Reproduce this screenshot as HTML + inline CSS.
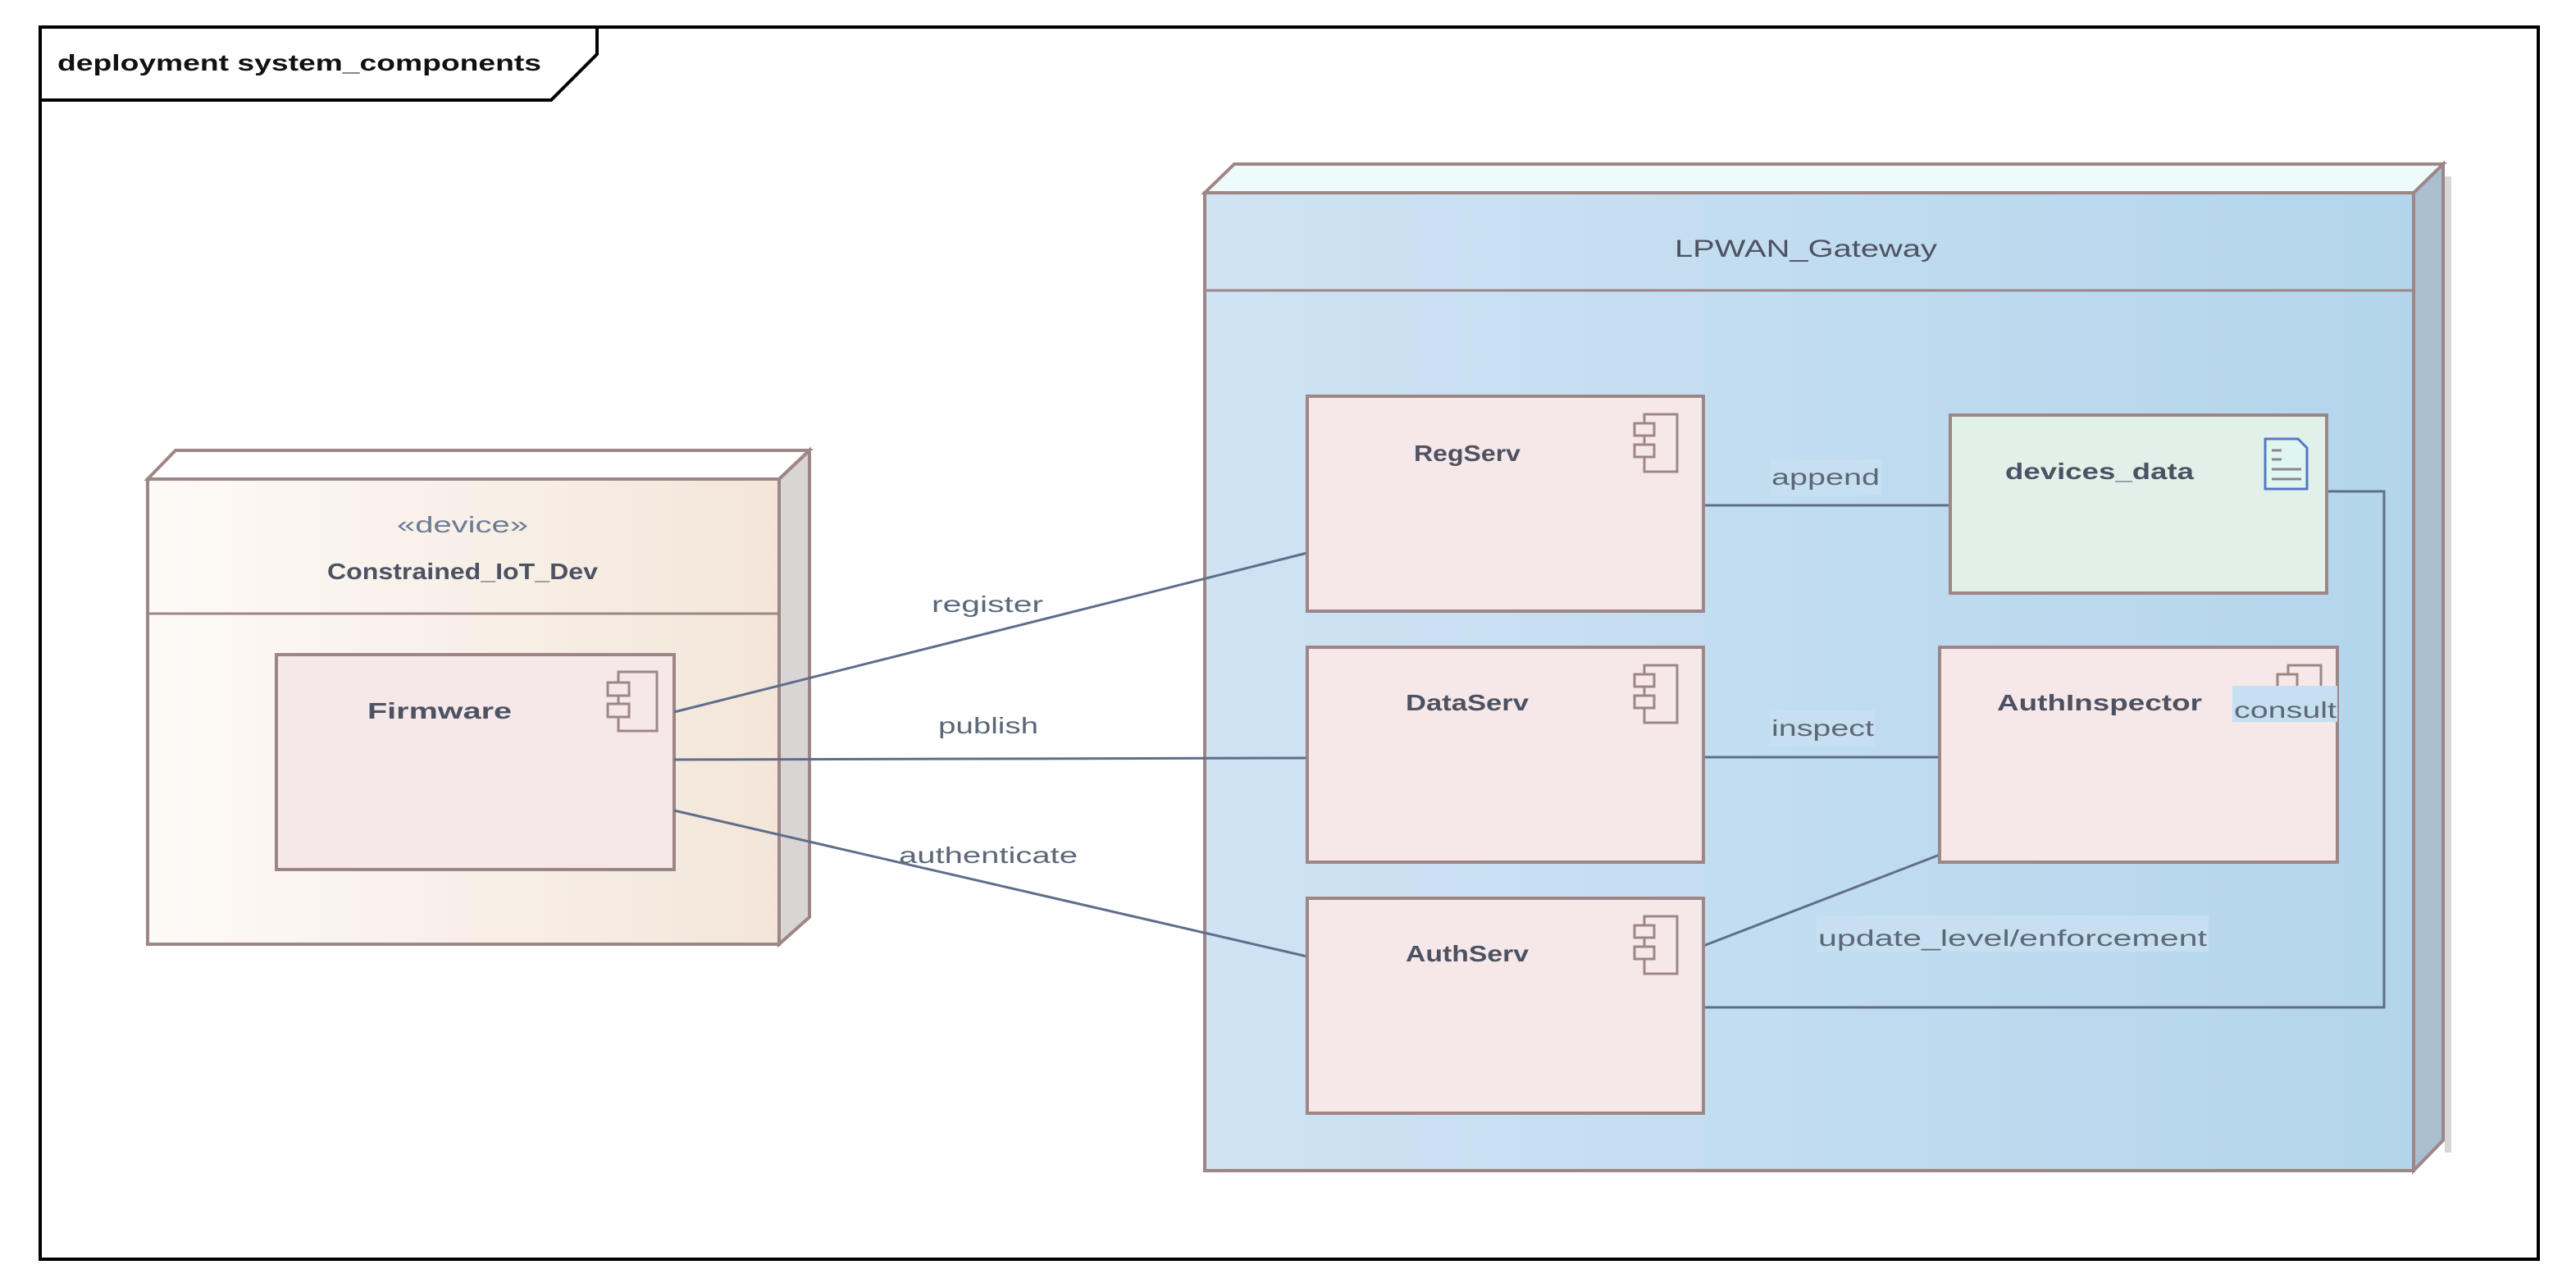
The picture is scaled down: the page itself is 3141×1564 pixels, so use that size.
<!DOCTYPE html>
<html><head><meta charset="utf-8"><style>
html,body{margin:0;padding:0;background:#fff;}
svg{display:block;}
text{font-family:"Liberation Sans",sans-serif;}
</style></head><body>
<svg width="3141" height="1564" viewBox="0 0 3141 1564" xmlns="http://www.w3.org/2000/svg">
<defs>
<linearGradient id="gdev" x1="0" x2="1" y1="0" y2="0"><stop offset="0" stop-color="#fdfaf7"/><stop offset="1" stop-color="#f3e6d9"/></linearGradient>
<linearGradient id="ggw" x1="0" x2="1" y1="0" y2="0"><stop offset="0" stop-color="#cfe3f3"/><stop offset="1" stop-color="#b3d5ec"/></linearGradient>
</defs>
<rect width="3141" height="1564" fill="#fff"/>
<rect x="49" y="33" width="3046" height="1502" fill="none" stroke="#000" stroke-width="4"/>
<polyline points="49,122 672,122 728,66 728,33" fill="none" stroke="#000" stroke-width="4"/>
<text x="70" y="86" font-size="28" font-weight="bold" fill="#111" textLength="590" lengthAdjust="spacingAndGlyphs">deployment system_components</text>

<polygon points="180,584 214,549 987,549 987,1118 950,1151 950,584" fill="#d9d6d6"/>
<polygon points="180,584 214,549 987,549 950,584" fill="#fff" stroke="#9e8686" stroke-width="4"/>
<polygon points="950,584 987,549 987,1118 950,1151" fill="#d8d5d5" stroke="#9e8686" stroke-width="4"/>
<rect x="180" y="584" width="770" height="567" fill="url(#gdev)" stroke="#9e8686" stroke-width="4"/>
<line x1="180" y1="748" x2="950" y2="748" stroke="#9e8686" stroke-width="3"/>
<text x="564" y="649" font-size="28" fill="#6d7b95" text-anchor="middle" textLength="160" lengthAdjust="spacingAndGlyphs">«device»</text>
<text x="564" y="706" font-size="28" font-weight="bold" fill="#4d5262" text-anchor="middle" textLength="330" lengthAdjust="spacingAndGlyphs">Constrained_IoT_Dev</text>
<rect x="337" y="798" width="485" height="262" fill="#f6e8e8" stroke="#9e8686" stroke-width="4"/>
<text x="536" y="876" font-size="28" font-weight="bold" fill="#4d5262" text-anchor="middle" textLength="176" lengthAdjust="spacingAndGlyphs">Firmware</text>
<g fill="#f6e8e8" stroke="#9e8686" stroke-width="3"><rect x="754" y="819" width="47" height="72"/><rect x="741" y="832" width="26" height="16"/><rect x="741" y="858" width="26" height="16"/></g>

<polygon points="2943,235 2979,200 2979,1390 2943,1427" fill="#a9bfd0" stroke="#9e8686" stroke-width="4"/>
<rect x="2981" y="215" width="8" height="1190" fill="#d6d6d6"/>
<polygon points="1469,235 1505,200 2979,200 2943,235" fill="#eefbfc" stroke="#9e8686" stroke-width="4"/>
<rect x="1469" y="235" width="1474" height="1192" fill="url(#ggw)" stroke="#9e8686" stroke-width="4"/>
<line x1="1469" y1="354" x2="2943" y2="354" stroke="#9e8686" stroke-width="3"/>
<text x="2202" y="313" font-size="30" fill="#4d5262" text-anchor="middle" textLength="320" lengthAdjust="spacingAndGlyphs">LPWAN_Gateway</text>

<g stroke="#5f6d8c" stroke-width="3" fill="none">
<line x1="822" y1="868" x2="1594" y2="674"/>
<line x1="822" y1="926" x2="1594" y2="924"/>
<line x1="822" y1="988" x2="1594" y2="1166"/>
<line x1="2077" y1="616" x2="2378" y2="616"/>
<line x1="2077" y1="923" x2="2365" y2="923"/>
<line x1="2077" y1="1153" x2="2365" y2="1042"/>
<polyline points="2077,1228 2907,1228 2907,599 2837,599"/>
</g>

<g fill="#f6e8e8" stroke="#9e8686" stroke-width="4">
<rect x="1594" y="483" width="483" height="262"/>
<rect x="1594" y="789" width="483" height="262"/>
<rect x="1594" y="1095" width="483" height="262"/>
<rect x="2365" y="789" width="485" height="262"/>
</g>
<rect x="2378" y="506" width="459" height="217" fill="#e1f1ea" stroke="#9e8686" stroke-width="4"/>
<g fill="#f6e8e8" stroke="#9e8686" stroke-width="3">
<rect x="2005" y="505" width="40" height="70"/><rect x="1993" y="516" width="24" height="15"/><rect x="1993" y="542" width="24" height="15"/>
<rect x="2005" y="811" width="40" height="70"/><rect x="1993" y="822" width="24" height="15"/><rect x="1993" y="848" width="24" height="15"/>
<rect x="2005" y="1117" width="40" height="70"/><rect x="1993" y="1128" width="24" height="15"/><rect x="1993" y="1154" width="24" height="15"/>
<rect x="2790" y="811" width="40" height="50"/><rect x="2777" y="822" width="24" height="40"/>
</g>
<path d="M2762,535 L2802,535 L2813,546 L2813,596 L2762,596 Z" fill="#dff5f0" stroke="#5577c4" stroke-width="3"/>
<g stroke="#888" stroke-width="3"><line x1="2770" y1="549" x2="2782" y2="549"/><line x1="2770" y1="560" x2="2782" y2="560"/><line x1="2770" y1="572" x2="2806" y2="572"/><line x1="2770" y1="584" x2="2806" y2="584"/></g>

<g font-size="28" font-weight="bold" fill="#4d5262" text-anchor="middle">
<text x="1789" y="562" textLength="130" lengthAdjust="spacingAndGlyphs">RegServ</text>
<text x="1789" y="866" textLength="150" lengthAdjust="spacingAndGlyphs">DataServ</text>
<text x="1789" y="1172" textLength="150" lengthAdjust="spacingAndGlyphs">AuthServ</text>
<text x="2560" y="584" textLength="230" lengthAdjust="spacingAndGlyphs">devices_data</text>
<text x="2560" y="866" textLength="250" lengthAdjust="spacingAndGlyphs">AuthInspector</text>
</g>

<g fill="#c6e0f1"><rect x="2158" y="560" width="136" height="44"/><rect x="2158" y="866" width="128" height="44"/><rect x="2215" y="1116" width="478" height="44"/><rect x="2722" y="836" width="128" height="44"/></g>
<g font-size="28" fill="#5c6878">
<text x="1136" y="746" textLength="136" lengthAdjust="spacingAndGlyphs">register</text>
<text x="1144" y="894" textLength="122" lengthAdjust="spacingAndGlyphs">publish</text>
<text x="1096" y="1052" textLength="218" lengthAdjust="spacingAndGlyphs">authenticate</text>
<text x="2160" y="591" textLength="132" lengthAdjust="spacingAndGlyphs">append</text>
<text x="2160" y="897" textLength="125" lengthAdjust="spacingAndGlyphs">inspect</text>
<text x="2217" y="1153" textLength="474" lengthAdjust="spacingAndGlyphs">update_level/enforcement</text>
<text x="2724" y="875" textLength="125" lengthAdjust="spacingAndGlyphs">consult</text>
</g>
</svg>
</body></html>
